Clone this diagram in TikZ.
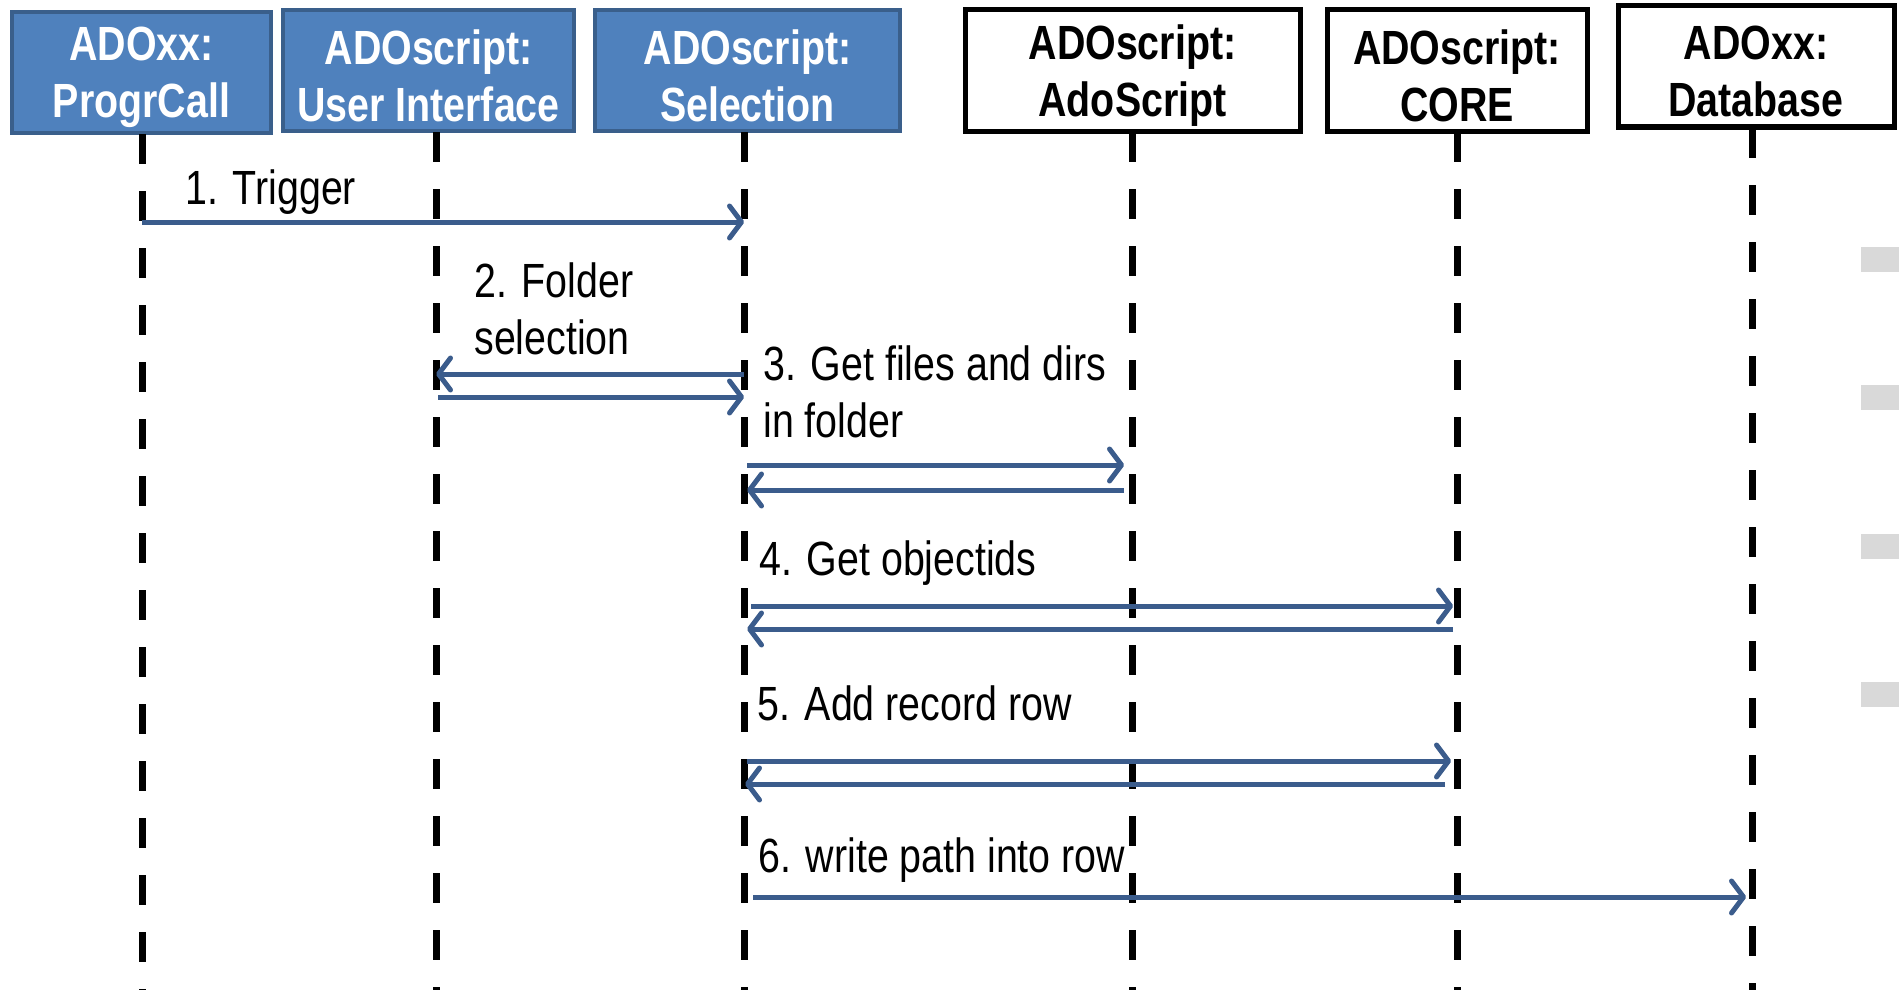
\documentclass[tikz,border=0pt]{standalone}
\usepackage{fontspec}
\setmainfont{Liberation Sans}[FakeStretch=0.82]
\usetikzlibrary{arrows.meta}
\definecolor{boxfill}{HTML}{4F81BD}
\definecolor{boxline}{HTML}{3A5F8B}
\definecolor{msgcol}{HTML}{3B5C8C}
\definecolor{barcol}{HTML}{D9D9D9}
\tikzset{
  hdrblue/.style={draw=boxline, fill=boxfill, line width=2pt, inner sep=0pt},
  hdrwhite/.style={draw=black, fill=white, line width=2.5pt, inner sep=0pt},
  hdrtext/.style={font=\fontsize{24}{28.5}\selectfont\bfseries, align=center, inner sep=0pt},
  lifeline/.style={draw=black, line width=3.5pt, dash pattern=on 15pt off 13.5pt},
  msg/.style={draw=msgcol, line width=2.5pt, -{Straight Barb[length=6pt,width=16pt,line width=2.5pt,round]}},
  lbl/.style={anchor=west, font=\fontsize{24}{28.5}\selectfont, align=left, inner sep=0pt},
  grey/.style={fill=barcol, draw=none}
}
\begin{document}
\begin{tikzpicture}[x=0.5pt,y=-0.5pt]
\useasboundingbox (0,0) rectangle (1899,990);
% headers
\node[hdrblue, minimum width=129.5pt, minimum height=60.5pt] (h1) at (141.5,72.5) {};
\node[hdrblue, minimum width=145.5pt, minimum height=60.5pt] (h2) at (428.5,70.5) {};
\node[hdrblue, minimum width=152.5pt, minimum height=60.5pt] (h3) at (747.5,70.5) {};
\node[hdrwhite, minimum width=167.5pt, minimum height=60.5pt] (h4) at (1132.5,70.5) {};
\node[hdrwhite, minimum width=130pt, minimum height=60.5pt] (h5) at (1457,70.5) {};
\node[hdrwhite, minimum width=138pt, minimum height=60.5pt] (h6) at (1756,66.5) {};
\node[hdrtext, text=white] (x1) at ([yshift=-2.5pt]h1.center) {ADOxx:\\ProgrCall};
\node[hdrtext, text=white] (x2) at ([yshift=-2.5pt]h2.center) {ADOscript:\\User Interface};
\node[hdrtext, text=white] (x3) at ([yshift=-2.5pt]h3.center) {ADOscript:\\Selection};
\node[hdrtext] (x4) at ([yshift=-2.5pt]h4.center) {ADOscript:\\AdoScript};
\node[hdrtext] (x5) at ([yshift=-2.5pt]h5.center) {ADOscript:\\CORE};
\node[hdrtext] (x6) at ([yshift=-2.5pt]h6.center) {ADOxx:\\Database};
% lifeline anchors
\coordinate (L1) at (142,134);
\coordinate (L2) at (436,132);
\coordinate (L3) at (744,132);
\coordinate (L4) at (1132,132);
\coordinate (L5) at (1457,132);
\coordinate (L6) at (1752,128);
\coordinate (B1) at (142,990);
\coordinate (B2) at (436,990);
\coordinate (B3) at (744,990);
\coordinate (B4) at (1132,990);
\coordinate (B5) at (1457,990);
\coordinate (B6) at (1752,990);
\foreach \i in {1,...,6} \draw[lifeline] (L\i) -- (B\i);
% grey bars
\fill[grey] (1861,247) rectangle (1899,272);
\fill[grey] (1861,385) rectangle (1899,410);
\fill[grey] (1861,534) rectangle (1899,559);
\fill[grey] (1861,682) rectangle (1899,707);
% messages
\draw[msg] (L1 |- 0,222) -- (L3 |- 0,222);
\node[lbl] (t1) at (185,192) {1. Trigger};
\node[lbl] (t2) at (474,309) {2. Folder\\selection};
\draw[msg] (L3 |- 0,374) -- (L2 |- 0,374);
\draw[msg] ([xshift=1pt]L2 |- 0,397) -- (L3 |- 0,397);
\node[lbl] (t3) at (763,392) {3. Get files and dirs\\in folder};
\draw[msg] ([xshift=1.5pt]L3 |- 0,465) -- ([xshift=-4pt]L4 |- 0,465);
\draw[msg] ([xshift=-4pt]L4 |- 0,490) -- ([xshift=1.5pt]L3 |- 0,490);
\node[lbl] (t4) at (759,563) {4. Get objectids};
\draw[msg] ([xshift=3.5pt]L3 |- 0,606) -- ([xshift=-2pt]L5 |- 0,606);
\draw[msg] ([xshift=-2pt]L5 |- 0,629) -- ([xshift=1.5pt]L3 |- 0,629);
\node[lbl] (t5) at (757,703) {5. Add record row};
\draw[msg] ([xshift=1.5pt]L3 |- 0,761) -- ([xshift=-3pt]L5 |- 0,761);
\draw[msg] ([xshift=-6pt]L5 |- 0,784) -- ([xshift=0.5pt]L3 |- 0,784);
\node[lbl] (t6) at (758,860) {6. write path into row};
\draw[msg] ([xshift=4.5pt]L3 |- 0,897) -- ([xshift=-3pt]L6 |- 0,897);
\end{tikzpicture}
\end{document}
